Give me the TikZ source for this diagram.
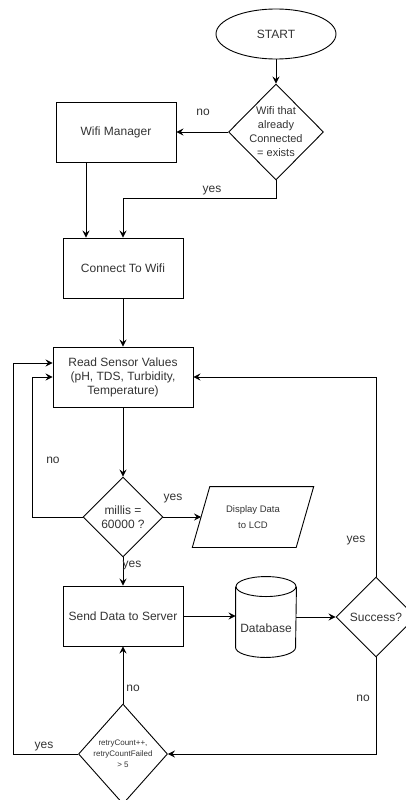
\documentclass[tikz,border=0pt]{standalone}
\usepackage{fontspec}
\setmainfont{Liberation Sans}
\usetikzlibrary{shapes.geometric,arrows.meta}
\begin{document}
\begin{tikzpicture}[x=1pt,y=-1pt,line width=0.9pt,
  base/.style={font=\fontsize{12}{14}\selectfont,text=black!80,align=center,inner sep=0pt},
  box/.style={base,draw,rectangle,minimum height=60pt},
  term/.style={base,draw,ellipse,minimum width=120pt,minimum height=50pt},
  dia/.style={draw,diamond,inner sep=0pt},
  txt/.style={base},
  diatxt/.style={base,font=\fontsize{11}{14}\selectfont},
  smalltxt/.style={base,font=\fontsize{9.5}{16}\selectfont},
  tinytxt/.style={base,font=\fontsize{8}{11}\selectfont},
  lbl/.style={base},
  arr/.style={-{Stealth[length=7pt,width=7pt,inset=2.5pt]}}]
\useasboundingbox (0,0) rectangle (406,800);
\clip (0,0) rectangle (406,800);

% nodes
\node[term] (start) at (276,34) {START};
\node[dia,minimum width=95pt,minimum height=96pt] (wd) at (276,132) {};
\node[diatxt] (wdt) at (wd.center) {Wifi that\\already\\Connected\\= exists};
\node[box,minimum width=120pt] (wm) at (116,132) {Wifi Manager};
\node[box,minimum width=120pt] (cw) at (123,268) {Connect To Wifi};
\node[box,minimum width=140pt] (rs) at (123,377) {Read Sensor Values\\(pH, TDS, Turbidity,\\Temperature)};
\node[dia,minimum width=80pt,minimum height=80pt] (md) at (123,517) {};
\node[txt] (mdt) at (md.center) {millis =\\60000 ?};
\node[smalltxt,minimum width=103pt,minimum height=60pt] (lcd) at (253,517) {Display Data\\to LCD};
\draw ([xshift=8.75pt]lcd.north west) -- ([xshift=8.75pt]lcd.north east)
  -- ([xshift=-8.75pt]lcd.south east) -- ([xshift=-8.75pt]lcd.south west) -- cycle;
\node[box,minimum width=120pt] (sd) at (123,616) {Send Data to Server};
\node[minimum width=60pt,minimum height=80pt,inner sep=0pt] (db) at (266,617) {};
\draw ([yshift=-10pt]db.north) ellipse [x radius=30pt,y radius=10pt];
\draw ([yshift=-10pt]db.north west) -- ([yshift=10pt]db.south west)
  arc[start angle=180,end angle=360,x radius=30pt,y radius=10pt]
  -- ([yshift=-10pt]db.north east);
\node[txt] (dbt) at (266,628) {Database};
\node[dia,minimum width=80pt,minimum height=80pt] (su) at (376,617) {};
\node[txt] (sut) at (su.center) {Success?};
\node[dia,minimum width=89pt,minimum height=100pt] (rt) at (123,754) {};
\node[tinytxt] (rtt) at (rt.center) {retryCount++,\\retryCountFailed\\> 5};

% connectors
\draw[arr] (start.south) -- (wd.north);
\draw[arr] (wd.west) -- (wm.east);
\draw[arr] (wd.south) -- ++(0,18) -| (cw.north);
\draw[arr] ([xshift=-30pt]wm.south) -- ([xshift=-30pt]wm.south |- cw.north);
\draw[arr] (cw.south) -- (rs.north);
\draw[arr] (rs.south) -- (md.north);
\draw[arr] (md.west) -- ++(-50,0) |- (rs.west);
\draw[arr] (md.east) -- (lcd.west);
\draw[arr] (md.south) -- (sd.north);
\draw[arr] (sd.east) -- (sd.east -| db.west);
\draw[arr] (db.east) -- (su.west);
\draw[arr] (su.north) |- (rs.east);
\draw[arr] (su.south) |- (rt.east);
\draw[arr] (rt.north) -- (sd.south);
\draw[arr] (rt.west) -- ++(-65,0) |- ([yshift=14pt]rs.west);

% labels
\node[lbl] (l1) at (203,112) {no};
\node[lbl] (l2) at (212,191) {yes};
\node[lbl] (l3) at (53,460) {no};
\node[lbl] (l4) at (173,499) {yes};
\node[lbl] (l5) at (132,566) {yes};
\node[lbl] (l6) at (356,541) {yes};
\node[lbl] (l7) at (363,698) {no};
\node[lbl] (l8) at (133,688) {no};
\node[lbl] (l9) at (44,747) {yes};
\end{tikzpicture}
\end{document}
